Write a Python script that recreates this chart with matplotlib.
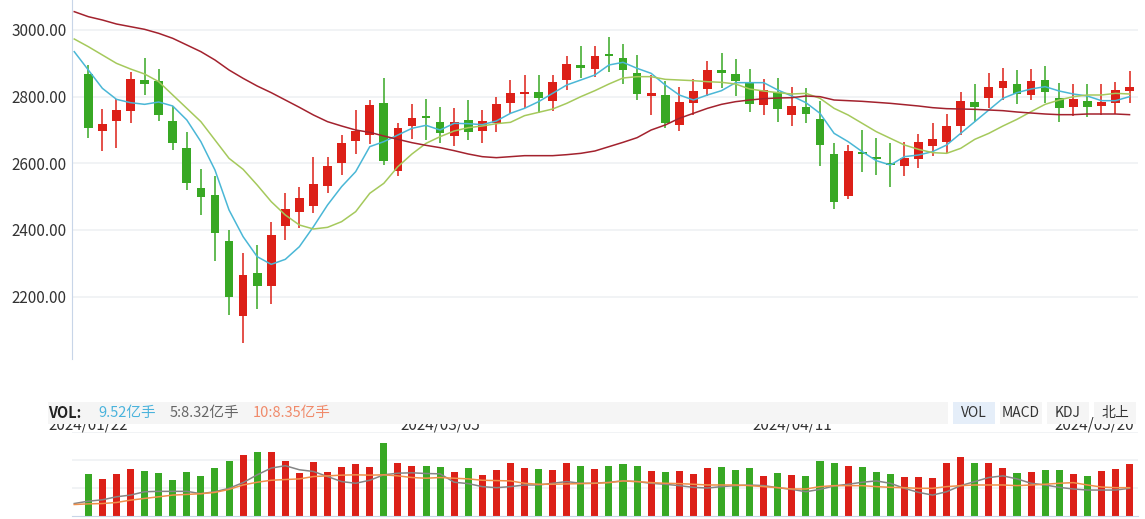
import matplotlib.pyplot as plt
from matplotlib.patches import Rectangle
from matplotlib.transforms import blended_transform_factory
import numpy as np

plt.rcParams['font.family'] = ['Noto Sans CJK SC', 'DejaVu Sans']

# daily K-line values (75 trading days)
opens = [2868, 2698, 2728, 2758, 2850, 2847, 2727, 2646, 2526, 2505,
         2367, 2143, 2270, 2233, 2413, 2455, 2473, 2533, 2602, 2668,
         2686, 2781, 2578, 2713, 2742, 2724, 2683, 2730, 2698, 2721,
         2782, 2809, 2814, 2788, 2851, 2895, 2884, 2928, 2916, 2871,
         2803, 2805, 2716, 2782, 2824, 2880, 2868, 2841, 2776, 2814,
         2746, 2769, 2733, 2628, 2503, 2634, 2619, 2601, 2593, 2614,
         2653, 2665, 2713, 2784, 2797, 2827, 2838, 2806, 2850, 2796,
         2770, 2787, 2773, 2782, 2818]
highs = [2895, 2763, 2793, 2873, 2917, 2883, 2772, 2693, 2583, 2563,
         2400, 2330, 2354, 2424, 2511, 2529, 2619, 2619, 2684, 2760,
         2790, 2855, 2721, 2778, 2793, 2769, 2766, 2790, 2760, 2799,
         2850, 2865, 2865, 2865, 2922, 2952, 2952, 2979, 2958, 2925,
         2865, 2847, 2829, 2853, 2907, 2931, 2913, 2883, 2853, 2856,
         2829, 2826, 2787, 2661, 2655, 2700, 2676, 2661, 2664, 2688,
         2721, 2748, 2814, 2838, 2871, 2886, 2880, 2883, 2892, 2841,
         2838, 2838, 2838, 2844, 2877]
lows = [2677, 2638, 2647, 2722, 2806, 2728, 2640, 2520, 2446, 2308,
        2145, 2062, 2164, 2179, 2371, 2407, 2450, 2512, 2565, 2629,
        2659, 2595, 2563, 2674, 2671, 2662, 2653, 2671, 2662, 2695,
        2748, 2767, 2752, 2758, 2821, 2857, 2860, 2875, 2839, 2791,
        2746, 2707, 2698, 2746, 2803, 2827, 2803, 2755, 2746, 2725,
        2713, 2722, 2593, 2464, 2494, 2575, 2566, 2530, 2563, 2587,
        2623, 2632, 2686, 2725, 2767, 2790, 2779, 2791, 2782, 2725,
        2743, 2740, 2746, 2748, 2782]
closes = [2707, 2718, 2760, 2853, 2839, 2746, 2662, 2542, 2500, 2392,
          2200, 2265, 2233, 2385, 2463, 2496, 2538, 2592, 2661, 2697,
          2775, 2608, 2706, 2736, 2737, 2692, 2724, 2695, 2727, 2778,
          2811, 2814, 2797, 2844, 2898, 2887, 2922, 2923, 2881, 2809,
          2811, 2722, 2784, 2817, 2880, 2872, 2848, 2779, 2820, 2764,
          2772, 2749, 2656, 2485, 2637, 2629, 2612, 2595, 2616, 2664,
          2673, 2712, 2787, 2770, 2829, 2847, 2809, 2847, 2815, 2767,
          2793, 2770, 2784, 2820, 2829]

# moving averages, first value belongs to the day before the window
ma_short = [2935, 2880, 2825, 2792, 2782, 2777, 2784, 2772, 2730, 2665,
            2580, 2460, 2380, 2320, 2297, 2312, 2350, 2410, 2475, 2530,
            2575, 2650, 2665, 2685, 2705, 2714, 2700, 2720, 2719, 2716,
            2727, 2750, 2765, 2785, 2810, 2835, 2850, 2865, 2895, 2903,
            2885, 2870, 2835, 2805, 2790, 2805, 2818, 2842, 2842, 2842,
            2820, 2802, 2782, 2750, 2690, 2665, 2635, 2608, 2595, 2620,
            2625, 2635, 2655, 2690, 2725, 2760, 2795, 2812, 2823, 2830,
            2817, 2808, 2802, 2788, 2788, 2800]
ma_mid = [2973, 2950, 2925, 2900, 2883, 2868, 2845, 2805, 2765, 2725,
          2670, 2615, 2582, 2535, 2485, 2445, 2415, 2403, 2408, 2425,
          2455, 2510, 2540, 2590, 2628, 2660, 2680, 2697, 2707, 2712,
          2719, 2723, 2743, 2753, 2763, 2780, 2800, 2818, 2838, 2856,
          2860, 2860, 2852, 2850, 2848, 2845, 2843, 2838, 2823, 2817,
          2812, 2808, 2810, 2795, 2765, 2745, 2720, 2695, 2675, 2655,
          2642, 2632, 2630, 2645, 2672, 2690, 2712, 2732, 2755, 2777,
          2790, 2800, 2805, 2805, 2810, 2808]
ma_long = [3055, 3040, 3030, 3018, 3010, 3002, 2990, 2975, 2955, 2935,
           2910, 2880, 2855, 2832, 2812, 2790, 2768, 2745, 2725, 2712,
           2700, 2693, 2682, 2672, 2662, 2654, 2647, 2638, 2628, 2620,
           2617, 2620, 2623, 2623, 2623, 2626, 2630, 2637, 2650, 2663,
           2677, 2700, 2715, 2735, 2750, 2765, 2777, 2785, 2790, 2794,
           2796, 2797, 2802, 2800, 2790, 2788, 2786, 2783, 2780, 2776,
           2772, 2767, 2764, 2763, 2762, 2760, 2758, 2754, 2751, 2748,
           2746, 2746, 2748, 2748, 2748, 2746]

# volume (亿手) and its moving averages
volume = [7.70, 6.78, 7.70, 8.62, 8.21, 7.85, 6.58, 8.06, 7.29, 8.77,
          10.10, 11.02, 11.58, 11.58, 10.10, 7.85, 9.89, 8.06, 8.98, 9.54,
          8.98, 13.21, 9.69, 9.18, 9.18, 8.98, 8.06, 8.77, 7.50, 8.42,
          9.69, 8.77, 8.62, 8.42, 9.69, 9.18, 8.62, 9.18, 9.54, 9.18,
          8.21, 8.06, 8.21, 7.70, 8.77, 8.98, 8.42, 8.77, 7.29, 7.85,
          7.50, 7.29, 10.10, 9.69, 9.18, 8.98, 8.06, 7.70, 7.14, 7.14,
          6.94, 9.69, 10.81, 9.69, 9.69, 8.77, 7.85, 8.06, 8.42, 8.42,
          7.70, 7.29, 8.21, 8.62, 9.54]
vol_ma5 = [2.27, 2.70, 2.95, 3.50, 3.81, 4.42, 4.49, 4.49, 4.49, 4.06,
           4.42, 5.04, 6.08, 7.50, 8.73, 9.16, 8.42, 8.11, 7.19, 6.27,
           5.96, 6.51, 7.50, 7.80, 7.87, 7.74, 7.68, 6.15, 5.90, 5.35,
           5.16, 5.35, 5.65, 5.65, 5.96, 6.27, 5.96, 5.96, 6.15, 6.39,
           6.27, 5.96, 5.78, 5.53, 5.22, 5.10, 5.35, 5.53, 5.65, 5.53,
           5.16, 4.85, 4.42, 4.85, 5.47, 5.78, 6.15, 6.39, 5.96, 5.04,
           4.30, 3.81, 4.42, 5.53, 6.27, 7.01, 7.31, 6.76, 5.96, 5.65,
           5.22, 4.92, 4.73, 4.73, 4.73, 5.04]
vol_ma10 = [2.09, 2.21, 2.27, 2.46, 2.89, 3.20, 3.50, 3.81, 3.93, 4.06,
            4.30, 4.85, 5.65, 6.15, 6.51, 6.64, 6.76, 7.19, 7.31, 7.44,
            7.50, 7.44, 7.50, 7.31, 7.01, 6.88, 7.01, 6.88, 6.76, 6.51,
            6.45, 6.39, 5.96, 5.78, 5.78, 5.84, 5.90, 5.96, 6.08, 6.39,
            6.27, 6.08, 5.96, 5.90, 5.78, 5.65, 5.65, 5.65, 5.53, 5.35,
            5.16, 4.92, 4.92, 5.35, 5.53, 5.53, 5.53, 5.35, 5.22, 5.16,
            5.04, 5.04, 5.35, 5.53, 5.65, 5.65, 5.65, 5.53, 5.65, 5.78,
            5.96, 6.08, 5.65, 5.28, 5.16, 5.16]

date_labels = ["2024/01/22", "2024/03/05", "2024/04/11", "2024/05/20"]
date_pos = [0, 25, 50, 71.5]
price_ticks = [2200, 2400, 2600, 2800, 3000]

RED = '#dc2018'
GREEN = '#38a824'
W, H = 1145, 519

fig = plt.figure(figsize=(W / 100, H / 100), dpi=100)
ax = fig.add_axes([72 / W, 1 - 359 / H, (1138 - 72) / W, 359 / H])
axv = fig.add_axes([72 / W, 3 / H, (1138 - 72) / W, (516 - 432) / H])

x = np.arange(len(opens))
xm = np.arange(-1, len(opens))
o = np.array(opens)
c = np.array(closes)
up = c >= o
colors = np.where(up, RED, GREEN)

# candles: wicks then bodies
ax.vlines(x, lows, highs, colors=colors, lw=1.1, zorder=2)
ax.bar(x, np.maximum(np.abs(c - o), 5), bottom=np.minimum(o, c),
       width=0.62, color=colors, zorder=3)

# moving average lines
ax.plot(xm, ma_short, color='#4ab7d6', lw=1.1, zorder=4)
ax.plot(xm, ma_mid, color='#a5c95c', lw=1.1, zorder=4)
ax.plot(xm, ma_long, color='#a3222e', lw=1.1, zorder=4)

ax.set_xlim(-1.16, 74.6)
ax.set_ylim(2013, 3090)
ax.set_yticks(price_ticks)
ax.set_yticklabels([f"{v:.2f}" for v in price_ticks])
ax.set_xticks([])
ax.tick_params(axis='y', length=0, pad=4, labelsize=11, labelcolor='#333333')
ax.grid(axis='y', color='#f0f2f5', lw=1.3)
ax.set_axisbelow(True)
for s in ['top', 'right', 'bottom']:
    ax.spines[s].set_visible(False)
ax.spines['left'].set_color('#c8d5e8')

# volume panel
axv.bar(x, volume, width=0.5, color=colors, zorder=2)
axv.plot(xm, vol_ma5, color='#858585', lw=1.1, zorder=3)
axv.plot(xm, vol_ma10, color='#f0904a', lw=1.1, zorder=3)
axv.set_xlim(-1.16, 74.6)
axv.set_ylim(0, 15.3)
axv.set_yticks([5.1, 10.2, 15.3])
axv.set_yticklabels([])
axv.set_xticks([])
axv.tick_params(length=0)
axv.grid(axis='y', color='#f0f2f5', lw=1.3)
axv.set_axisbelow(True)
for s in ['top', 'right', 'left']:
    axv.spines[s].set_visible(False)
axv.spines['bottom'].set_color('#c8d5e8')

# date labels (top half covered by the indicator bar)
trans = blended_transform_factory(axv.transData, fig.transFigure)
for lab, p in zip(date_labels, date_pos):
    fig.text(p, 1 - 429 / H, lab, transform=trans, ha='center', va='baseline',
             fontsize=11, color='#333333', zorder=3)

# indicator bar
fig.patches.append(Rectangle((48 / W, 1 - 424 / H), (948 - 48) / W, 22 / H,
                             transform=fig.transFigure, facecolor='#f5f5f5',
                             edgecolor='none', zorder=5))
ty = 1 - 413 / H
fig.text(48 / W, ty, "VOL:", fontsize=10.5, fontweight='bold', color='#222222',
         va='center', zorder=6)
fig.text(98 / W, ty, "9.52亿手", fontsize=10.5, color='#4ab3dc', va='center', zorder=6)
fig.text(170 / W, ty, "5:8.32亿手", fontsize=10.5, color='#666666', va='center', zorder=6)
fig.text(253 / W, ty, "10:8.35亿手", fontsize=10.5, color='#f08a6a', va='center', zorder=6)

buttons = ["VOL", "MACD", "KDJ", "北上"]
btn_left = [953, 1000, 1047, 1094]
for i, (b, bx) in enumerate(zip(buttons, btn_left)):
    face = '#e5eef9' if i == 0 else '#f5f5f5'
    fig.patches.append(Rectangle((bx / W, 1 - 424 / H), 42 / W, 22 / H,
                                 transform=fig.transFigure, facecolor=face,
                                 edgecolor='none', zorder=5))
    fig.text((bx + 21) / W, ty, b, fontsize=10, color='#333333',
             ha='center', va='center', zorder=6)

fig.savefig("out.png", dpi=100)
